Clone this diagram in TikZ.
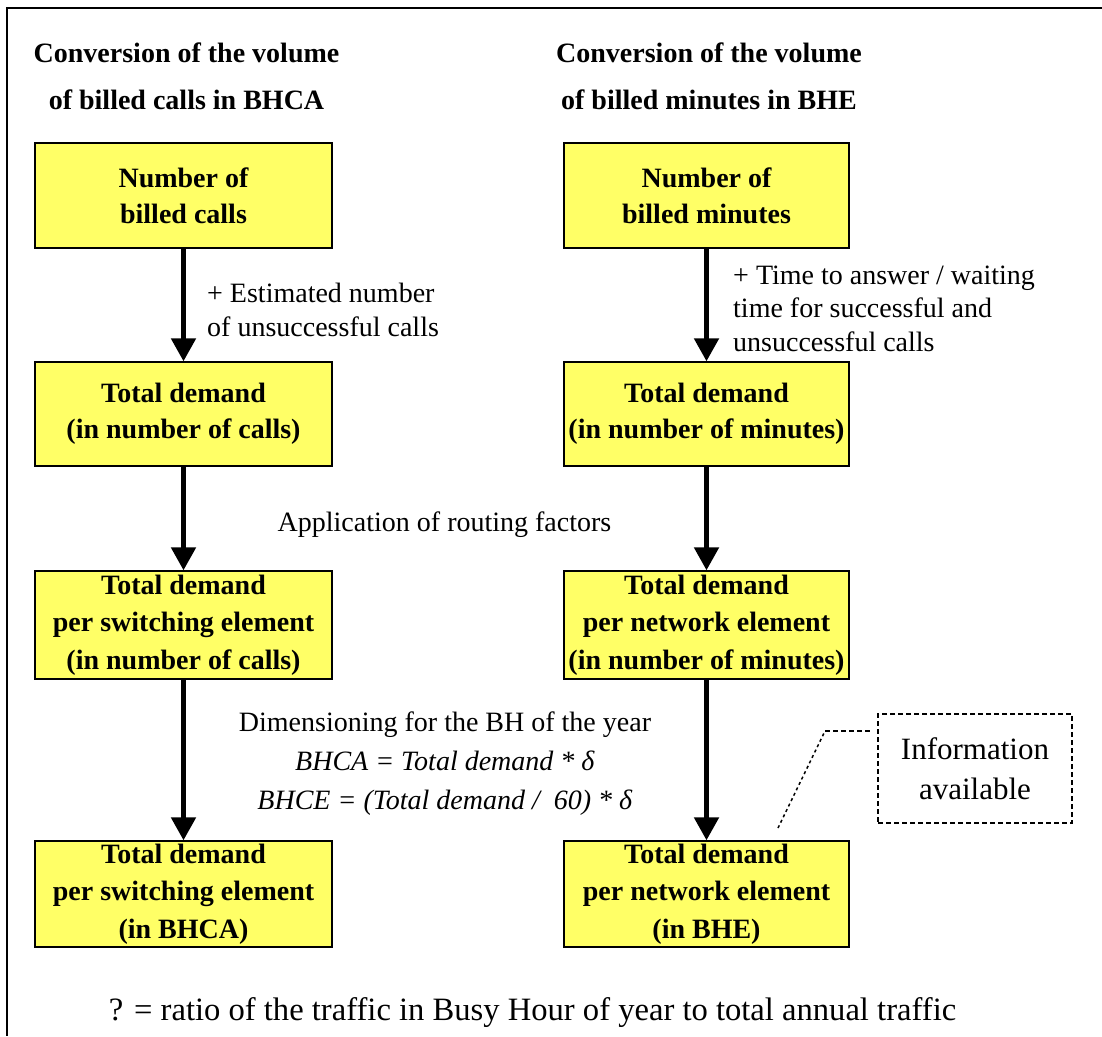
\documentclass[tikz,border=0pt]{standalone}
\usepackage{fontspec}
\setmainfont{Liberation Serif}
\usetikzlibrary{arrows.meta}
\definecolor{boxyellow}{RGB}{255,255,102}
\begin{document}
\begin{tikzpicture}[x=1pt,y=-1pt,
  box/.style={draw=black, line width=1.3pt, fill=boxyellow, align=center, inner sep=0pt,
              font=\fontsize{28}{36}\selectfont\bfseries},
  lbox/.style={box, minimum width=297pt},
  rbox/.style={box, minimum width=285pt},
  three/.style={font=\fontsize{28}{37.5}\selectfont\bfseries},
  ttl/.style={align=center, inner sep=0pt, font=\fontsize{28}{47}\selectfont\bfseries},
  flow/.style={line width=5pt, -{Triangle[length=23pt,width=24pt]}},
  lab/.style={align=left, anchor=west, inner sep=0pt, font=\fontsize{28}{34}\selectfont},
  midlab/.style={align=center, inner sep=0pt, font=\fontsize{28}{39}\selectfont},
  infobox/.style={draw=black, line width=1.5pt, dash pattern=on 5pt off 3pt, align=center,
              minimum width=194pt, minimum height=109pt, inner sep=0pt,
              font=\fontsize{31}{40}\selectfont},
  leader/.style={line width=1.5pt, dash pattern=on 5pt off 3pt},
  leaderdot/.style={line width=1.5pt, dash pattern=on 3pt off 3pt}
]
\useasboundingbox (0,0) rectangle (1102,1036);
\fill[white] (0,0) rectangle (1102,1036);
% frame (top and left edges)
\draw[line width=2pt] (1102,8) -- (7,8) -- (7,1036);

% titles
\node[ttl] (tl) at (186.5,76.5) {Conversion of the volume\\of billed calls in BHCA};
\node[ttl] (tr) at (709,76.5) {Conversion of the volume\\of billed minutes in BHE};

% left column
\node[lbox, minimum height=105pt] (l1) at (183.5,195.5) {Number of\\billed calls};
\node[lbox, minimum height=104pt] (l2) at (183.5,414) {Total demand\\(in number of calls)};
\node[lbox, three, minimum height=108pt] (l3) at (183.5,625) {Total demand\\per switching element\\(in number of calls)};
\node[lbox, three, minimum height=106pt] (l4) at (183.5,894) {Total demand\\per switching element\\(in BHCA)};

% right column
\node[rbox, minimum height=105pt] (r1) at (706.5,195.5) {Number of\\billed minutes};
\node[rbox, minimum height=104pt] (r2) at (706.5,414) {Total demand\\(in number of minutes)};
\node[rbox, three, minimum height=108pt] (r3) at (706.5,625) {Total demand\\per network element\\(in number of minutes)};
\node[rbox, three, minimum height=106pt] (r4) at (706.5,894) {Total demand\\per network element\\(in BHE)};

% arrows
\draw[flow] (l1.south) -- (l2.north);
\draw[flow] (l2.south) -- (l3.north);
\draw[flow] (l3.south) -- (l4.north);
\draw[flow] (r1.south) -- (r2.north);
\draw[flow] (r2.south) -- (r3.north);
\draw[flow] (r3.south) -- (r4.north);

% labels
\node[lab] (e1) at (207,310) {+ Estimated number\\of unsuccessful calls};
\node[lab, font=\fontsize{28}{33.5}\selectfont] (e2) at (733,308.5) {+ Time to answer / waiting\\time for successful and\\unsuccessful calls};
\node[midlab] (app) at (444.5,525) {Application of routing factors};
\node[midlab] (dim) at (445,764) {Dimensioning for the BH of the year\\\textit{BHCA = Total demand * δ}\\\textit{BHCE = (Total demand /\ \ 60) * δ}};

% information box and leader
\node[infobox] (info) at (975,768.5) {Information\\available};
\coordinate (la) at (778,828);
\coordinate (lb) at (825,731);
\coordinate (lc) at (872,731);
\draw[leaderdot] (la) -- (lb);
\draw[leader] (lb) -- (lc);

% footnote
\node[inner sep=0pt, font=\fontsize{32.6}{36}\selectfont] (note) at (532.5,1013) {? = ratio of the traffic in Busy Hour of year to total annual traffic};
\end{tikzpicture}
\end{document}
